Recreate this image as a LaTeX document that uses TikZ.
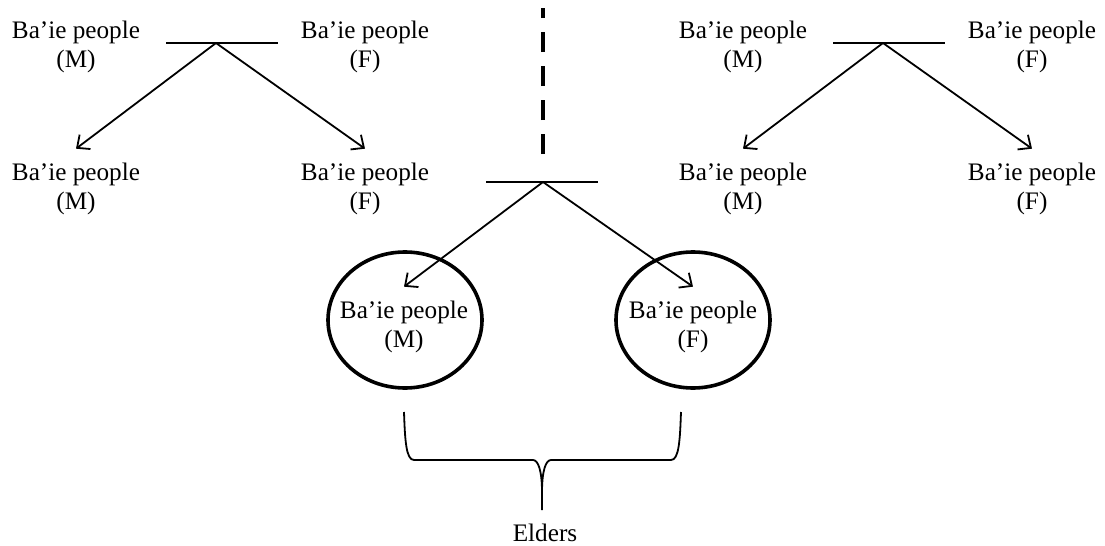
\documentclass[tikz,border=0pt]{standalone}
\usepackage{fontspec}
\setmainfont{Liberation Serif}
\usetikzlibrary{arrows.meta,shapes.geometric}

\begin{document}
\begin{tikzpicture}[x=0.5pt,y=-0.5pt,
	person/.style={align=center, inner xsep=2pt, inner ysep=7pt, font=\fontsize{12.6}{14.5}\selectfont},
	descent/.style={-{Straight Barb[length=5pt,width=9pt]}, line width=0.9pt},
	union/.style={line width=1pt},
	ring/.style={draw, ellipse, line width=1.8pt, minimum width=77pt, minimum height=68pt}]

	\useasboundingbox (0,0) rectangle (1105,546);

	% Families on both sides
	\foreach \fam/\dx in {a/0, b/667}{
		\node[person] (\fam pm) at (76+\dx,47) {Ba’ie people\\(M)};
		\node[person] (\fam pf) at (365+\dx,47) {Ba’ie people\\(F)};
		\node[person] (\fam cm) at (76+\dx,189) {Ba’ie people\\(M)};
		\node[person] (\fam cf) at (365+\dx,189) {Ba’ie people\\(F)};
		\coordinate (\fam l) at (166+\dx,43);
		\coordinate (\fam r) at (278+\dx,43);
		\coordinate (\fam top) at (216+\dx,43);
		\draw[union] (\fam l) -- (\fam r);
		\draw[descent] (\fam top) -- (\fam cm.north);
		\draw[descent] (\fam top) -- (\fam cf.north);
	}

	% Cut
	\coordinate (cut top) at (543,8);
	\coordinate (cut bottom) at (543,154);
	\draw[line width=2.4pt, dash pattern=on 10pt off 7pt] (cut bottom) -- (cut top);

	% Elders
	\node[ring] (ringm) at (405,320) {};
	\node[ring] (ringf) at (693,320) {};
	\node[person] (em) at (404,327) {Ba’ie people\\(M)};
	\node[person] (ef) at (693,327) {Ba’ie people\\(F)};
	\coordinate (ml) at (486,182);
	\coordinate (mr) at (598,182);
	\coordinate (mtop) at (543,182);
	\draw[union] (ml) -- (mr);
	\draw[descent] (mtop) -- (em.north);
	\draw[descent] (mtop) -- (ef.north);

	% Brace
	\coordinate (legm) at (404,412);
	\coordinate (legf) at (681,412);
	\coordinate (tip) at (542,510);
	\draw[line width=0.9pt] (legm) .. controls (405,440) and (406,460) .. (414,460)
		-- (533,460) .. controls (538,460) and (542,470) .. (542,492) -- (tip);
	\draw[line width=0.9pt] (legf) .. controls (680,440) and (679,460) .. (671,460)
		-- (551,460) .. controls (546,460) and (542,470) .. (542,492);
	\node[person, inner ysep=2pt] (elders) at (545,533) {Elders};

\end{tikzpicture}
\end{document}
